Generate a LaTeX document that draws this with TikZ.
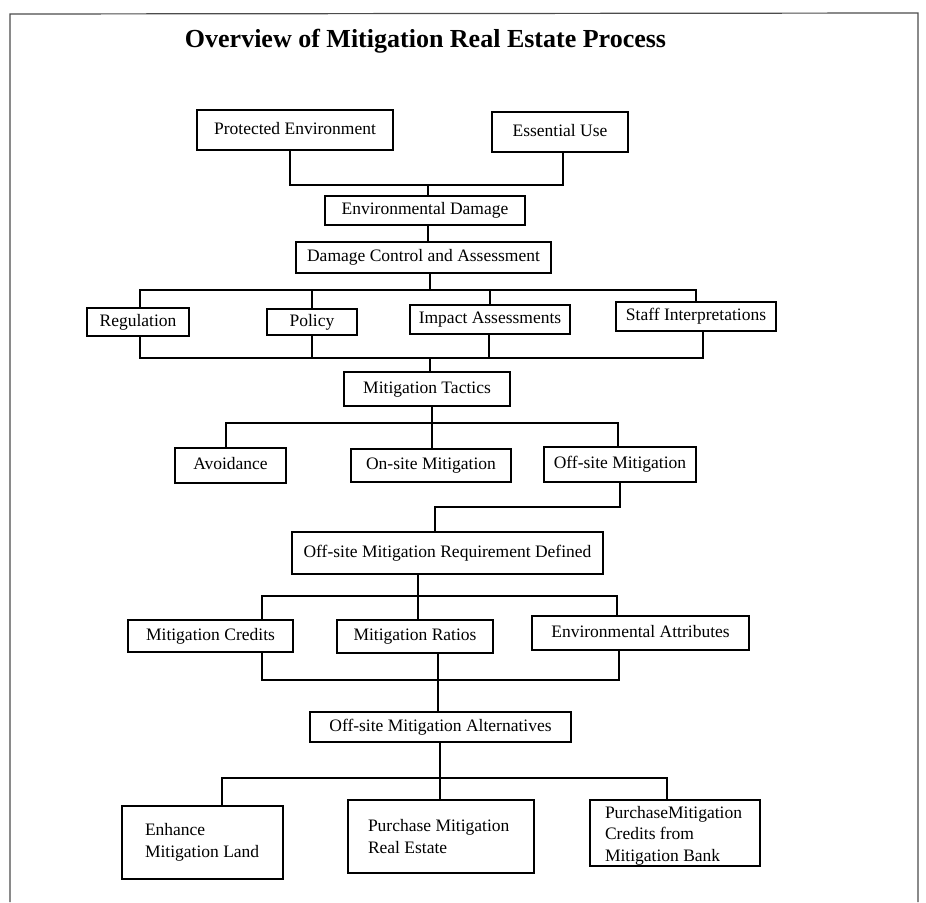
\documentclass[tikz,border=0pt]{standalone}
\usepackage{fontspec}
\setmainfont{Liberation Serif}
\usetikzlibrary{calc}
\begin{document}
\begin{tikzpicture}[x=1pt,y=-1pt,
  box/.style={draw, line width=1.4pt, font=\fontsize{17.5}{21.5}\selectfont, inner sep=0pt, align=center, text height=11.5pt, text depth=3pt},
  tallbox/.style={draw, line width=1.4pt, font=\fontsize{17.5}{21.5}\selectfont, align=flush left, inner ysep=0pt},
  link/.style={line width=1.4pt},
  frame/.style={line width=1.2pt, black!70}]
\useasboundingbox (0,0) rectangle (926,902);
% frame
\draw[frame] (10,902) -- (10,14) -- (918,13) -- (918,902);
% title
\node[font=\fontsize{26}{30}\selectfont\bfseries] (title) at (425.5,41) {Overview of Mitigation Real Estate Process};
% nodes
\node[box, minimum width=196, minimum height=40] (pe) at (295,130) {Protected Environment};
\node[box, minimum width=136, minimum height=40] (eu) at (560,132) {Essential Use};
\node[box, minimum width=200, minimum height=29] (ed) at (425,210.5) {Environmental Damage};
\node[box, minimum width=255, minimum height=31] (dca) at (423.5,257.5) {Damage Control and Assessment};
\node[box, minimum width=102, minimum height=28] (reg) at (138,322) {Regulation};
\node[box, minimum width=90, minimum height=26] (pol) at (312,322) {Policy};
\node[box, minimum width=160, minimum height=29] (ia) at (490,319.5) {Impact Assessments};
\node[box, minimum width=160, minimum height=29] (si) at (696,316.5) {Staff Interpretations};
\node[box, minimum width=166, minimum height=34] (mt) at (427,389) {Mitigation Tactics};
\node[box, minimum width=111, minimum height=35] (av) at (230.5,465.5) {Avoidance};
\node[box, minimum width=160, minimum height=33] (on) at (431,465.5) {On-site Mitigation};
\node[box, minimum width=152, minimum height=35] (off) at (620,464.5) {Off-site Mitigation};
\node[box, minimum width=311, minimum height=42] (req) at (447.5,553) {Off-site Mitigation Requirement Defined};
\node[box, minimum width=165, minimum height=32] (mc) at (210.5,636) {Mitigation Credits};
\node[box, minimum width=156, minimum height=33] (mr) at (415,636.5) {Mitigation Ratios};
\node[box, minimum width=217, minimum height=34] (ea) at (640.5,633) {Environmental Attributes};
\node[box, minimum width=261, minimum height=30] (alt) at (440.5,727) {Off-site Mitigation Alternatives};
\node[tallbox, inner xsep=23, text width=115, minimum height=73] (en) at (202.5,842.5) {Enhance\\Mitigation Land};
\node[tallbox, inner xsep=20, text width=146, minimum height=73] (pr) at (441,836.5) {Purchase Mitigation\\Real Estate};
\node[tallbox, inner xsep=15, text width=140, minimum height=66, text height=14.5pt, text depth=44.5pt] (pc) at (675,833) {PurchaseMitigation\\Credits from\\Mitigation Bank};
% junction coordinates
\coordinate (j1) at (428,185);
\coordinate (b1) at (430,290);
\coordinate (b2) at (430,358);
\coordinate (b3) at (432,423);
\coordinate (b4) at (435,507);
\coordinate (b5) at (418,596);
\coordinate (b6) at (438,680);
\coordinate (b7) at (440,778);
% connectors
\draw[link] ([xshift=-5]pe.south) |- (j1) -| ([xshift=3]eu.south);
\draw[link] (j1) -- (j1 |- ed.north);
\draw[link] ([xshift=3]ed.south) -- ([xshift=3]ed.south |- dca.north);
\draw[link] (dca.south -| b1) -- (b1);
\draw[link] ([xshift=2]reg.north) |- (b1) -| (si.north);
\draw[link] (pol.north) -- (pol.north |- b1);
\draw[link] (ia.north) -- (ia.north |- b1);
\draw[link] ([xshift=2]reg.south) |- (b2) -| ([xshift=7]si.south);
\draw[link] (pol.south) -- (pol.south |- b2);
\draw[link] ([xshift=-1]ia.south) -- ([xshift=-1]ia.south |- b2);
\draw[link] (b2) -- (b2 |- mt.north);
\draw[link] (mt.south -| b3) -- (b3);
\draw[link] ([xshift=-4.5]av.north) |- (b3) -| ([xshift=-2]off.north);
\draw[link] (on.north -| b3) -- (b3);
\draw[link] (off.south) |- (b4) -- (b4 |- req.north);
\draw[link] (req.south -| b5) -- (b5);
\draw[link] ([xshift=51.5]mc.north) |- (b5) -| ([xshift=-23.5]ea.north);
\draw[link] (mr.north -| b5) -- (b5);
\draw[link] ([xshift=51.5]mc.south) |- (b6) -| ([xshift=-21.5]ea.south);
\draw[link] (mr.south -| b6) -- (b6);
\draw[link] (b6) -- (b6 |- alt.north);
\draw[link] (alt.south -| b7) -- (b7);
\draw[link] ([xshift=19.5]en.north) |- (b7) -| ([xshift=-8]pc.north);
\draw[link] (pr.north -| b7) -- (b7);
\end{tikzpicture}
\end{document}
